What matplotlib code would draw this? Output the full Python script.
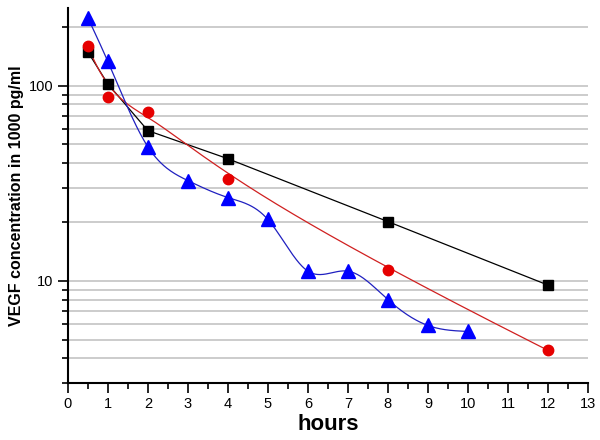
import numpy as np
import matplotlib
matplotlib.use('Agg')
import matplotlib.pyplot as plt
from matplotlib.ticker import FixedLocator, NullFormatter, FixedFormatter

plt.rcParams['font.family'] = ['Liberation Sans', 'DejaVu Sans']

# data
hours_black = [0.5, 1, 2, 4, 8, 12]
vegf_black = [149, 102, 58.8, 42.2, 20.1, 9.5]

hours_red = [0.5, 1, 2, 4, 8, 12]
vegf_red = [160, 87.8, 72.8, 33.3, 11.4, 4.4]

hours_blue = [0.5, 1, 2, 3, 4, 5, 6, 7, 8, 9, 10]
vegf_blue = [223, 133, 48.6, 32.6, 26.7, 20.6, 11.2, 11.2, 8.0, 5.9, 5.5]

x_ticks = list(range(0, 14))
y_major = [10, 100]


def bspline(px, py, num=300, k=3):
    # clamped B-spline using the points as control points (like Origin's B-spline line)
    px = np.asarray(px, float)
    py = np.asarray(py, float)
    n = len(px)
    inner = np.linspace(0, 1, n - k + 1)
    knots = np.concatenate([[0] * k, inner, [1] * k])
    u = np.linspace(0, 1, num)
    u[-1] -= 1e-9

    def basis(i, d, t):
        if d == 0:
            return ((knots[i] <= t) & (t < knots[i + 1])).astype(float)
        left = 0.0
        right = 0.0
        if knots[i + d] != knots[i]:
            left = (t - knots[i]) / (knots[i + d] - knots[i]) * basis(i, d - 1, t)
        if knots[i + d + 1] != knots[i + 1]:
            right = (knots[i + d + 1] - t) / (knots[i + d + 1] - knots[i + 1]) * basis(i + 1, d - 1, t)
        return left + right

    B = np.array([basis(i, k, u) for i in range(n)])
    return B.T @ px, B.T @ py


def natural_spline(x, y, xs):
    x = np.asarray(x, float)
    y = np.asarray(y, float)
    n = len(x)
    h = np.diff(x)
    A = np.zeros((n, n))
    r = np.zeros(n)
    A[0, 0] = A[-1, -1] = 1
    for i in range(1, n - 1):
        A[i, i - 1] = h[i - 1]
        A[i, i] = 2 * (h[i - 1] + h[i])
        A[i, i + 1] = h[i]
        r[i] = 6 * ((y[i + 1] - y[i]) / h[i] - (y[i] - y[i - 1]) / h[i - 1])
    m = np.linalg.solve(A, r)
    out = np.empty_like(xs)
    for k, xv in enumerate(xs):
        i = min(max(np.searchsorted(x, xv) - 1, 0), n - 2)
        t0, t1 = x[i], x[i + 1]
        out[k] = (m[i] * (t1 - xv) ** 3 / (6 * h[i]) + m[i + 1] * (xv - t0) ** 3 / (6 * h[i])
                  + (y[i] / h[i] - m[i] * h[i] / 6) * (t1 - xv)
                  + (y[i + 1] / h[i] - m[i + 1] * h[i] / 6) * (xv - t0))
    return out


def main():
    fig = plt.figure(figsize=(6, 4.4), dpi=100)
    ax = fig.add_axes([0.113, 0.13, 0.867, 0.852])
    ax.set_yscale('log')
    ax.set_xlim(0, 13)
    ax.set_ylim(3, 250)

    # horizontal grid at every log step
    grid_vals = [v * d for d in (1, 10, 100) for v in range(1, 10) if 3 < v * d < 250]
    for g in grid_vals:
        ax.axhline(g, color='#c4c4c4', lw=1.2, zorder=0)

    ax.plot(hours_black, vegf_black, color='black', lw=0.9, zorder=2)
    ax.plot(hours_black, vegf_black, 's', color='black', ms=7, zorder=4)

    rx, ry = bspline(hours_red, np.log10(vegf_red))
    ax.plot(rx, 10 ** ry, color='#d02020', lw=0.9, zorder=2)
    ax.plot(hours_red, vegf_red, 'o', color='#e60000', ms=7.5, zorder=4)

    tb = np.linspace(hours_blue[0], hours_blue[-1], 400)
    ax.plot(tb, 10 ** natural_spline(hours_blue, np.log10(vegf_blue), tb),
            color='#2020c0', lw=0.9, zorder=2)
    ax.plot(hours_blue, vegf_blue, '^', color='#0000ff', ms=9.5, zorder=4)

    ax.xaxis.set_major_locator(FixedLocator(x_ticks))
    ax.xaxis.set_minor_locator(FixedLocator([v + 0.5 for v in x_ticks[:-1]]))
    ax.yaxis.set_major_locator(FixedLocator(y_major))
    ax.yaxis.set_major_formatter(FixedFormatter([str(v) for v in y_major]))
    ax.yaxis.set_minor_locator(FixedLocator(grid_vals + [3]))
    ax.yaxis.set_minor_formatter(NullFormatter())
    ax.tick_params(which='major', length=7, width=1.2, labelsize=10.5, direction='out')
    ax.tick_params(which='minor', length=4, width=1.2, direction='out')

    for side in ('top', 'right'):
        ax.spines[side].set_visible(False)
    for side in ('left', 'bottom'):
        ax.spines[side].set_linewidth(1.5)

    ax.set_xlabel('hours', fontsize=16, fontweight='bold', labelpad=2)
    ax.set_ylabel('VEGF concentration in 1000 pg/ml', fontsize=11.5, fontweight='bold', labelpad=3)

    fig.savefig('out.png', dpi=100)


if __name__ == '__main__':
    main()
